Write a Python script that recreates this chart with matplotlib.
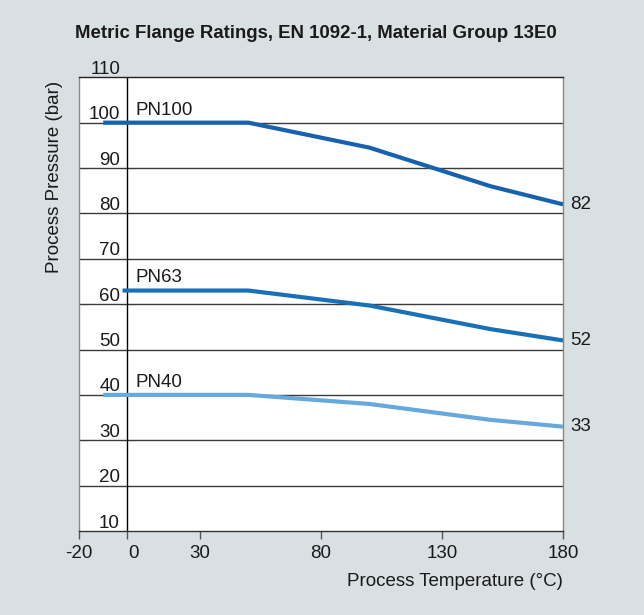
import matplotlib
matplotlib.use("Agg")
import matplotlib.pyplot as plt
from matplotlib.transforms import ScaledTranslation

plt.rcParams['font.family'] = ['Liberation Sans', 'DejaVu Sans']

# Data
temps_pn100 = [-10, 50, 100, 150, 180]
pn100 = [100, 100, 94.5, 86, 82]
temps_pn63 = [-2, 50, 100, 150, 180]
pn63 = [63, 63, 59.7, 54.5, 52]
temps_pn40 = [-10, 50, 100, 150, 180]
pn40 = [40, 40, 38, 34.5, 33]
series_names = ["PN100", "PN63", "PN40"]
end_labels = ["82", "52", "33"]
x_ticks = [-20, 0, 30, 80, 130, 180]
y_ticks = [10, 20, 30, 40, 50, 60, 70, 80, 90, 100, 110]

bg = '#d9e0e4'
colors = ['#1762ae', '#1a70b7', '#66a9dc']
FS = 13.5

fig = plt.figure(figsize=(6.44, 6.15), dpi=100, facecolor=bg)
ax = fig.add_axes([79/644, 1-531/615, (563-79)/644, (531-77.3)/615])
ax.set_facecolor('white')
ax.set_xlim(-20, 180)
ax.set_ylim(10, 110)

# gridlines
for v in y_ticks[1:-1]:
    ax.axhline(v, color='#3a3a3a', lw=1.0, zorder=1)
ax.axvline(0, color='black', lw=1.0, zorder=1)

xs = [temps_pn100, temps_pn63, temps_pn40]
ys = [pn100, pn63, pn40]
for x, y, c, name, el in zip(xs, ys, colors, series_names, end_labels):
    ax.plot(x, y, color=c, lw=3.0, solid_capstyle='butt', zorder=3)
    ax.text(3.3, y[0] + 0.9, name, fontsize=FS, color='#1a1a1a',
            ha='left', va='bottom')
    ax.text(183, y[-1], el, fontsize=FS, color='#1a1a1a', ha='left',
            va='center', clip_on=False)

# spines
ax.spines['left'].set_color('#888888')
ax.spines['right'].set_color('#888888')
ax.spines['top'].set_color('#222222')
ax.spines['bottom'].set_color('#333333')
for s in ax.spines.values():
    s.set_linewidth(1.0)

ax.set_xticks(x_ticks)
ax.set_xticklabels([str(t) for t in x_ticks], fontsize=FS, color='#1a1a1a')
ax.tick_params(axis='x', length=6, width=1, color='#555555', pad=4)
for lab in ax.get_xticklabels():
    if lab.get_text() == '0':
        lab.set_transform(lab.get_transform() + ScaledTranslation(6/100, 0, fig.dpi_scale_trans))

ax.set_yticks(y_ticks)
ax.set_yticklabels([str(t) for t in y_ticks], fontsize=FS, color='#1a1a1a')
ax.tick_params(axis='y', length=0, pad=0)
for lab in ax.get_yticklabels():
    lab.set_transform(lab.get_transform() + ScaledTranslation(41/100, 10/100, fig.dpi_scale_trans))

fig.text(55/644, 1-177/615, 'Process Pressure (bar)', rotation=90, fontsize=FS,
         color='#1a1a1a', ha='center', va='center')
fig.text(563/644, 1-582/615, 'Process Temperature (°C)', fontsize=FS,
         color='#1a1a1a', ha='right', va='center')
fig.text(316/644, 1-33/615, 'Metric Flange Ratings, EN 1092-1, Material Group 13E0',
         fontsize=13.4, fontweight='bold', color='#1a1a1a', ha='center', va='center')

fig.savefig('out.png', dpi=100, facecolor=bg)
